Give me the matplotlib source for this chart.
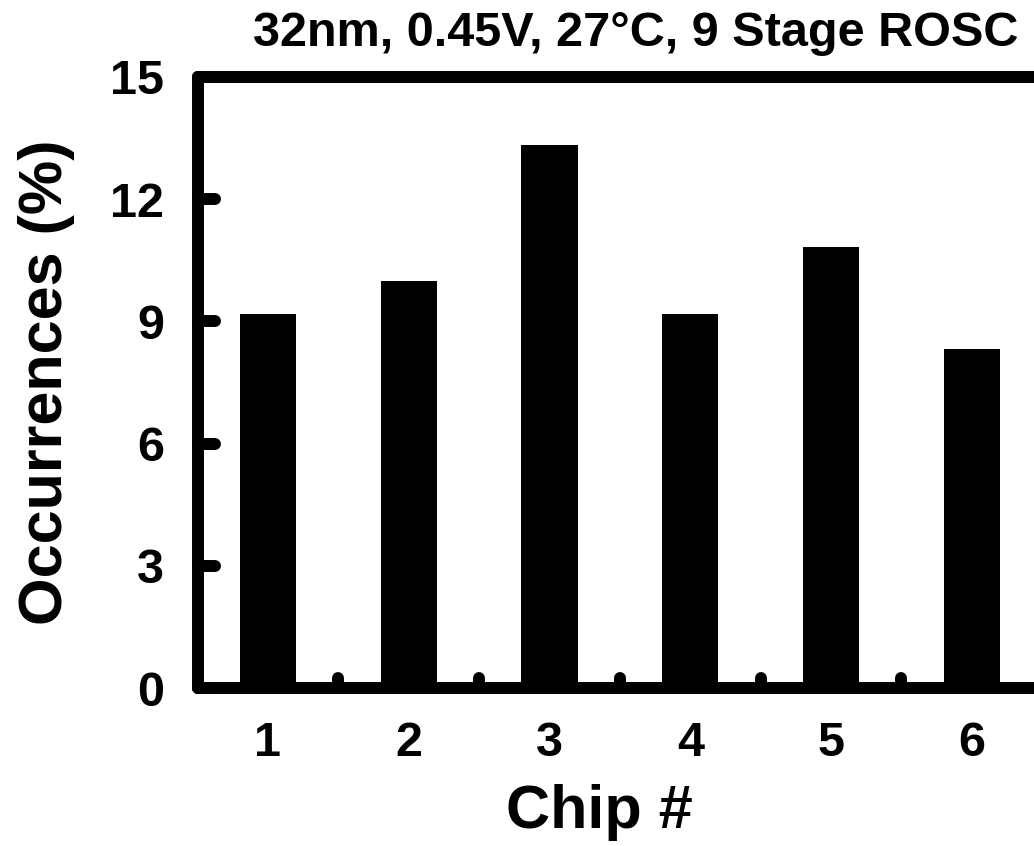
#!/usr/bin/env python3
import matplotlib
matplotlib.use("Agg")
import matplotlib.pyplot as plt
from matplotlib.markers import MarkerStyle
import matplotlib.lines as mlines

# data (chip 7+ is cut off in the original)
chips = [1, 2, 3, 4, 5, 6]
occurrences = [9.17, 10.0, 13.33, 9.17, 10.83, 8.33]
y_ticks = [0, 3, 6, 9, 12, 15]

plt.rcParams['font.family'] = ['Liberation Sans', 'DejaVu Sans']
plt.rcParams['font.weight'] = 'bold'

W, H = 1034, 846
fig = plt.figure(figsize=(W / 100, H / 100), dpi=100)
# axes runs past the right edge of the picture, like the original crop
ax_left, ax_right = 197.5, 1183
ax = fig.add_axes([ax_left / W, (H - 688) / H, (ax_right - ax_left) / W, (688 - 77) / H])

ax.bar(chips, occurrences, width=0.4, color='black', zorder=1)

ax.set_xlim(0.5, 7.5)
ax.set_ylim(0, 15)
ax.set_yticks(y_ticks)
ax.set_xticks(chips)
ax.set_xticks([c + 0.5 for c in chips], minor=True)

lw = 8.6
for s in ax.spines.values():
    s.set_linewidth(lw)
    s.set_capstyle('round')
    s.set_joinstyle('round')
    s.set_zorder(3)

ax.tick_params(axis='y', which='major', direction='in', length=12, width=lw,
               labelsize=35, pad=24)
ax.tick_params(axis='x', which='major', length=0, labelsize=35, pad=24)
ax.tick_params(axis='x', which='minor', direction='in', length=7, width=lw)

for lab in ax.get_xticklabels() + ax.get_yticklabels():
    lab.set_fontweight('bold')

ax.set_xlabel('Chip #', fontsize=44, fontweight='bold', labelpad=13)
ax.xaxis.label.set_x((599 - ax_left) / (ax_right - ax_left))
ax.set_ylabel('Occurrences (%)', fontsize=44, fontweight='bold', labelpad=25)

fig.text(636 / W, 1 - 46 / H, '32nm, 0.45V, 27°C, 9 Stage ROSC',
         fontsize=35, fontweight='bold', ha='center', va='baseline')

# round tick ends
for t in ax.yaxis.get_major_ticks():
    t.tick1line.set_marker(MarkerStyle(mlines.TICKRIGHT, capstyle='round'))
    t.tick2line.set_visible(False)
for t in ax.xaxis.get_minor_ticks():
    t.tick1line.set_marker(MarkerStyle(mlines.TICKUP, capstyle='round'))
    t.tick2line.set_visible(False)

fig.savefig('out.png', dpi=100)
